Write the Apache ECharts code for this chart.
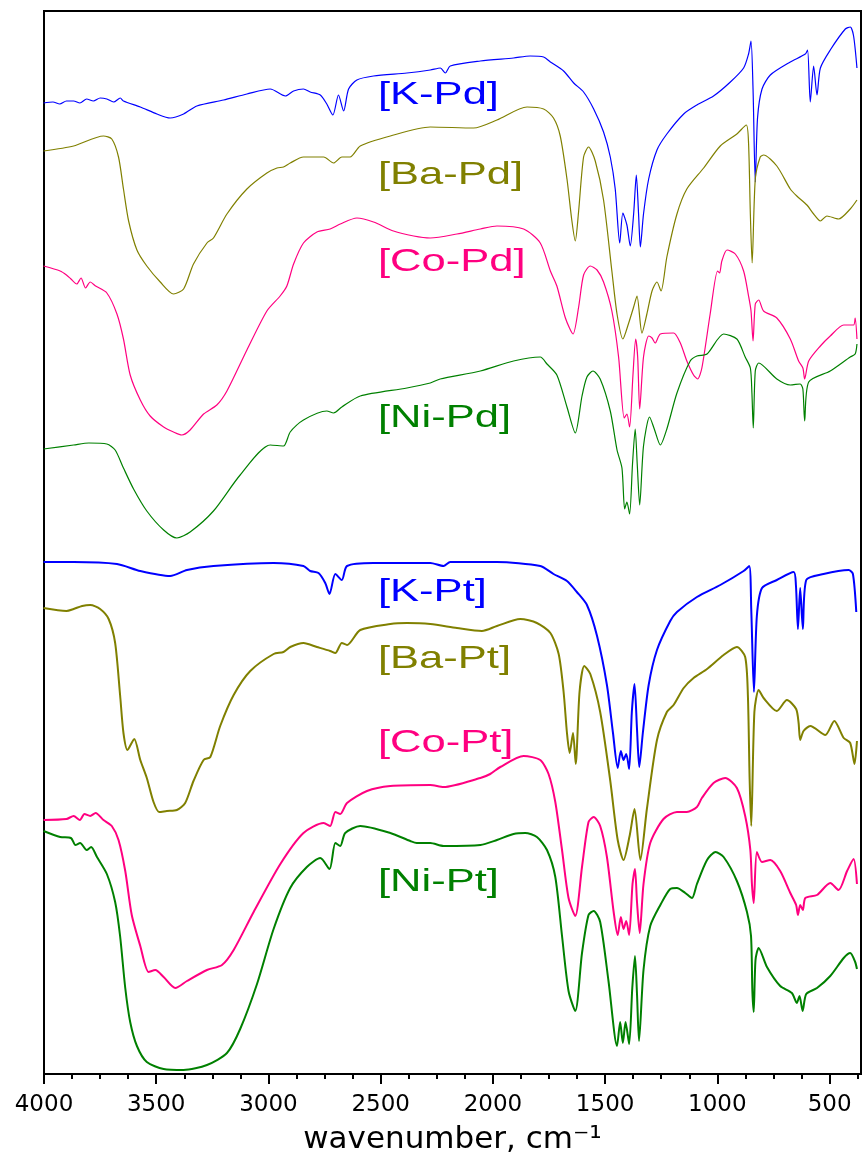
<!DOCTYPE html>
<html>
<head>
<meta charset="utf-8">
<script src="https://cdn.jsdelivr.net/npm/echarts@6/dist/echarts.min.js"></script>
<style>
html,body{margin:0;padding:0;background:#fff;}
#chart{width:863px;height:1158px;}
</style>
</head>
<body>
<div id="chart"></div>
<script>
// Wavenumber (cm^-1) vs. transmittance (arbitrary offset units)
const majorTicks = [4000, 3500, 3000, 2500, 2000, 1500, 1000, 500];
const minorTicks = [3875, 3750, 3625, 3375, 3250, 3125, 2875, 2750, 2625, 2375, 2250, 2125,
  1875, 1750, 1625, 1375, 1250, 1125, 875, 750, 625, 375];

const kPd = [[4002,971],[3960,972],[3930,970],[3900,973],[3868,973],[3840,971],[3810,975],[3780,973],[3750,976],[3720,975],[3690,972],[3660,976],[3646,973],[3571,967],[3497,960],[3438,956],[3378,960],[3319,968],[3200,974],[3096,980],[2992,985],[2925,978],[2888,983],[2844,985],[2814,982],[2769,979],[2740,970],[2713,959],[2688,979],[2665,963],[2643,985],[2606,994],[2532,998],[2383,1001],[2279,1004],[2234,1006],[2212,1001],[2190,1008],[2056,1013],[1908,1016],[1834,1018],[1774,1017],[1744,1012],[1685,1003],[1640,991],[1596,982],[1551,965],[1507,942],[1477,917],[1455,885],[1435,831],[1421,861],[1403,849],[1388,828],[1373,860],[1361,899],[1351,860],[1343,827],[1329,860],[1306,895],[1269,924],[1225,940],[1150,960],[1091,969],[1017,978],[942,992],[883,1006],[861,1020],[850,1033],[841,985],[831,892],[821,956],[801,985],[764,999],[675,1012],[608,1020],[598,1024],[586,972],[571,1008],[556,979],[541,1006],[497,1024],[430,1045],[408,1047],[393,1038],[378,1006]];

const baPd = [[4002,923],[3868,928],[3735,938],[3698,935],[3668,917],[3646,885],[3623,853],[3586,824],[3542,808],[3482,792],[3423,780],[3378,785],[3334,810],[3274,831],[3245,836],[3185,860],[3096,885],[3007,901],[2962,906],[2933,907],[2903,911],[2844,917],[2754,917],[2710,911],[2673,917],[2636,917],[2591,928],[2457,938],[2279,947],[2086,946],[1982,954],[1848,967],[1774,965],[1730,956],[1700,938],[1670,895],[1648,853],[1633,833],[1618,863],[1596,917],[1574,927],[1544,913],[1507,874],[1470,803],[1447,760],[1421,735],[1395,751],[1373,767],[1358,778],[1336,741],[1314,760],[1291,783],[1269,792],[1251,783],[1225,817],[1180,860],[1136,885],[1061,906],[987,928],[913,940],[871,949],[861,931],[853,860],[845,811],[831,895],[809,917],[794,919],[735,908],[675,885],[646,878],[601,869],[571,860],[541,853],[512,858],[460,855],[408,865],[378,874]];

const coPd = [[4002,808],[3928,803],[3900,799],[3880,795],[3854,790],[3835,796],[3815,786],[3794,792],[3770,788],[3720,781],[3675,760],[3646,735],[3616,699],[3571,674],[3527,658],[3467,647],[3423,642],[3386,639],[3349,644],[3289,660],[3230,669],[3185,683],[3096,724],[3007,763],[2948,778],[2918,788],[2888,810],[2844,831],[2784,842],[2725,845],[2680,850],[2606,856],[2532,852],[2443,843],[2353,838],[2279,836],[2160,840],[2056,845],[1982,848],[1863,845],[1789,831],[1744,803],[1715,788],[1677,756],[1643,740],[1618,767],[1596,799],[1566,808],[1536,804],[1507,792],[1470,763],[1440,717],[1415,656],[1403,660],[1391,647],[1376,699],[1364,735],[1355,717],[1346,665],[1329,717],[1306,738],[1291,736],[1277,731],[1254,740],[1195,741],[1165,731],[1136,713],[1106,699],[1088,695],[1069,706],[1032,760],[999,803],[990,801],[980,813],[957,824],[920,820],[883,803],[861,778],[850,763],[841,733],[831,770],[816,774],[794,763],[735,756],[675,735],[638,713],[619,706],[611,695],[593,713],[541,728],[497,738],[437,749],[393,749],[386,756],[378,735]];

const niPd = [[4002,625],[3868,629],[3800,631],[3720,630],[3683,624],[3646,606],[3601,585],[3542,563],[3467,544],[3408,536],[3349,542],[3245,563],[3126,599],[2992,629],[2933,628],[2903,642],[2844,654],[2740,663],[2710,661],[2673,667],[2591,678],[2383,686],[2279,691],[2235,695],[2056,703],[1908,713],[1789,717],[1759,710],[1715,699],[1670,667],[1633,641],[1603,678],[1581,697],[1554,703],[1522,695],[1477,663],[1447,624],[1425,606],[1413,565],[1403,572],[1391,560],[1378,610],[1366,645],[1357,610],[1346,569],[1329,628],[1302,657],[1281,645],[1254,629],[1225,645],[1180,681],[1121,713],[1091,718],[1046,720],[972,740],[913,735],[876,717],[853,706],[846,681],[840,646],[831,703],[816,711],[735,695],[675,689],[631,690],[619,685],[611,653],[593,692],[497,703],[408,717],[386,720],[378,730]];

const kPt = [[4002,512],[3868,512],[3675,510],[3571,503],[3438,498],[3363,504],[3245,508],[2977,511],[2844,508],[2814,503],[2777,501],[2747,491],[2728,480],[2702,500],[2673,494],[2650,508],[2532,511],[2279,511],[2220,508],[2190,512],[1982,512],[1789,508],[1730,500],[1670,493],[1626,482],[1581,469],[1536,438],[1492,389],[1465,341],[1444,306],[1430,323],[1418,314],[1406,320],[1393,305],[1381,362],[1369,390],[1358,345],[1348,307],[1332,341],[1306,389],[1269,424],[1210,453],[1180,462],[1091,477],[987,489],[883,503],[858,508],[849,465],[837,382],[824,458],[801,486],[735,494],[660,502],[650,489],[641,445],[631,486],[619,445],[604,494],[527,500],[415,504],[396,500],[381,462]];

const baPt = [[4002,466],[3900,463],[3868,465],[3830,468],[3794,469],[3750,465],[3712,455],[3683,431],[3661,379],[3646,341],[3628,324],[3598,335],[3571,314],[3542,296],[3512,272],[3487,262],[3453,263],[3408,264],[3371,271],[3334,293],[3289,314],[3259,317],[3215,348],[3155,379],[3081,403],[2977,420],[2933,422],[2903,427],[2844,431],[2784,427],[2725,423],[2702,421],[2673,431],[2650,429],[2591,444],[2457,450],[2383,451],[2279,450],[2160,446],[2049,443],[1982,448],[1878,455],[1804,451],[1744,441],[1707,420],[1685,382],[1670,341],[1658,321],[1643,341],[1631,310],[1614,382],[1593,408],[1566,400],[1522,362],[1477,293],[1444,234],[1418,214],[1391,238],[1369,265],[1343,214],[1314,265],[1269,334],[1225,362],[1195,369],[1150,386],[1106,396],[1046,405],[972,419],[913,427],[876,417],[864,379],[856,293],[849,248],[835,362],[816,384],[794,376],[735,363],[690,374],[649,365],[638,351],[631,334],[616,343],[586,348],[519,339],[479,353],[437,336],[408,331],[389,310],[378,333]];

const coPt = [[4002,254],[3900,255],[3868,258],[3840,254],[3820,260],[3794,258],[3770,261],[3735,254],[3698,248],[3668,234],[3638,203],[3609,159],[3571,128],[3534,102],[3504,104],[3467,97],[3415,86],[3363,93],[3274,104],[3207,109],[3155,124],[3066,162],[2947,210],[2844,241],[2754,251],[2725,248],[2702,262],[2680,260],[2650,271],[2561,283],[2457,288],[2279,289],[2220,287],[2056,296],[2012,300],[1967,307],[1863,318],[1789,314],[1752,300],[1722,272],[1692,224],[1663,176],[1633,158],[1603,207],[1574,252],[1551,257],[1522,248],[1492,217],[1462,162],[1444,139],[1430,157],[1418,145],[1406,153],[1393,139],[1378,190],[1367,205],[1358,172],[1346,141],[1329,190],[1299,231],[1240,255],[1180,262],[1136,262],[1091,267],[1069,276],[1017,291],[965,296],[913,286],[876,258],[853,224],[846,190],[838,171],[824,222],[801,212],[764,214],[720,203],[675,181],[649,169],[641,159],[631,169],[619,164],[608,176],[556,179],[497,191],[460,184],[422,203],[393,215],[378,190]];

const niPt = [[4002,243],[3928,237],[3880,236],[3860,229],[3839,231],[3810,224],[3790,227],[3764,217],[3720,200],[3683,172],[3661,138],[3638,86],[3616,52],[3586,28],[3542,12],[3467,5],[3378,4],[3274,9],[3185,21],[3126,45],[3051,90],[2977,145],[2903,186],[2829,207],[2769,216],[2728,205],[2702,231],[2680,228],[2658,241],[2591,248],[2457,241],[2368,233],[2339,231],[2279,231],[2220,228],[2056,229],[1982,234],[1908,240],[1856,241],[1804,237],[1759,224],[1722,197],[1692,138],[1663,83],[1633,63],[1603,121],[1574,159],[1551,163],[1522,152],[1485,93],[1447,28],[1433,52],[1421,31],[1409,52],[1393,30],[1379,86],[1367,118],[1358,80],[1349,33],[1329,104],[1299,148],[1254,169],[1210,185],[1180,186],[1143,181],[1113,176],[1091,190],[1046,214],[1008,222],[972,217],[913,193],[868,162],[850,138],[844,83],[838,62],[830,114],[816,126],[779,107],[720,88],[668,81],[646,71],[634,78],[620,63],[604,80],[556,86],[497,98],[437,116],[408,121],[386,112],[378,105]];

const seriesNames = ['[K-Pd]','[Ba-Pd]','[Co-Pd]','[Ni-Pd]','[K-Pt]','[Ba-Pt]','[Co-Pt]','[Ni-Pt]'];
const seriesData = [kPd, baPd, coPd, niPd, kPt, baPt, coPt, niPt];
const colors = ['#0000ff','#808000','#ff0080','#008000','#0000ff','#808000','#ff0080','#008000'];
const widths = [1.2,1.2,1.2,1.2,2,2,2,2];
const labelY = [95,175.5,262,418,592,659,743,882];

const chart = echarts.init(document.getElementById('chart'), null, {renderer:'canvas'});
const axisCommon = {type:'value', min:360, max:4000, inverse:true, position:'bottom', gridIndex:0,
  splitLine:{show:false}};
chart.setOption({
  animation:false,
  backgroundColor:'#fff',
  grid:{left:44, right:2, top:11, bottom:84, show:true, borderColor:'#000', borderWidth:2,
    containLabel:false, outerBoundsMode:'none'},
  xAxis:[
    Object.assign({}, axisCommon, {
      name:'wavenumber, cm\u207B\u00B9', nameLocation:'middle', nameGap:50, nameMoveOverlap:false,
      nameTextStyle:{fontFamily:'DejaVu Sans', fontSize:31, color:'#000'},
      axisLine:{show:true, lineStyle:{color:'#000', width:2}},
      axisTick:{show:true, inside:false, length:10, lineStyle:{color:'#000', width:2}, customValues:majorTicks},
      axisLabel:{show:true, margin:20, fontFamily:'DejaVu Sans', fontSize:23, color:'#000',
        customValues:majorTicks, formatter:function(v){return String(v);}}
    }),
    Object.assign({}, axisCommon, {
      axisLine:{show:false},
      axisTick:{show:true, inside:false, length:5, lineStyle:{color:'#000', width:2}, customValues:minorTicks},
      axisLabel:{show:false}
    })
  ],
  yAxis:{type:'value', min:0, max:1063, show:false, splitLine:{show:false}},
  series: seriesData.map((d,i)=>({
    name:seriesNames[i], type:'line', data:d, showSymbol:false, symbol:'none',
    xAxisIndex:0, yAxisIndex:0, smooth:0.25,
    lineStyle:{color:colors[i], width:widths[i]}, itemStyle:{color:colors[i]}
  })),
  graphic: seriesNames.map((n,i)=>({
    type:'text', x:378, y:labelY[i], scaleX:1.36, scaleY:1, z:100,
    style:{text:n, fill:colors[i], font:'32px "Liberation Sans", Arial, sans-serif', verticalAlign:'middle', align:'left'}
  }))
});
</script>
</body>
</html>
